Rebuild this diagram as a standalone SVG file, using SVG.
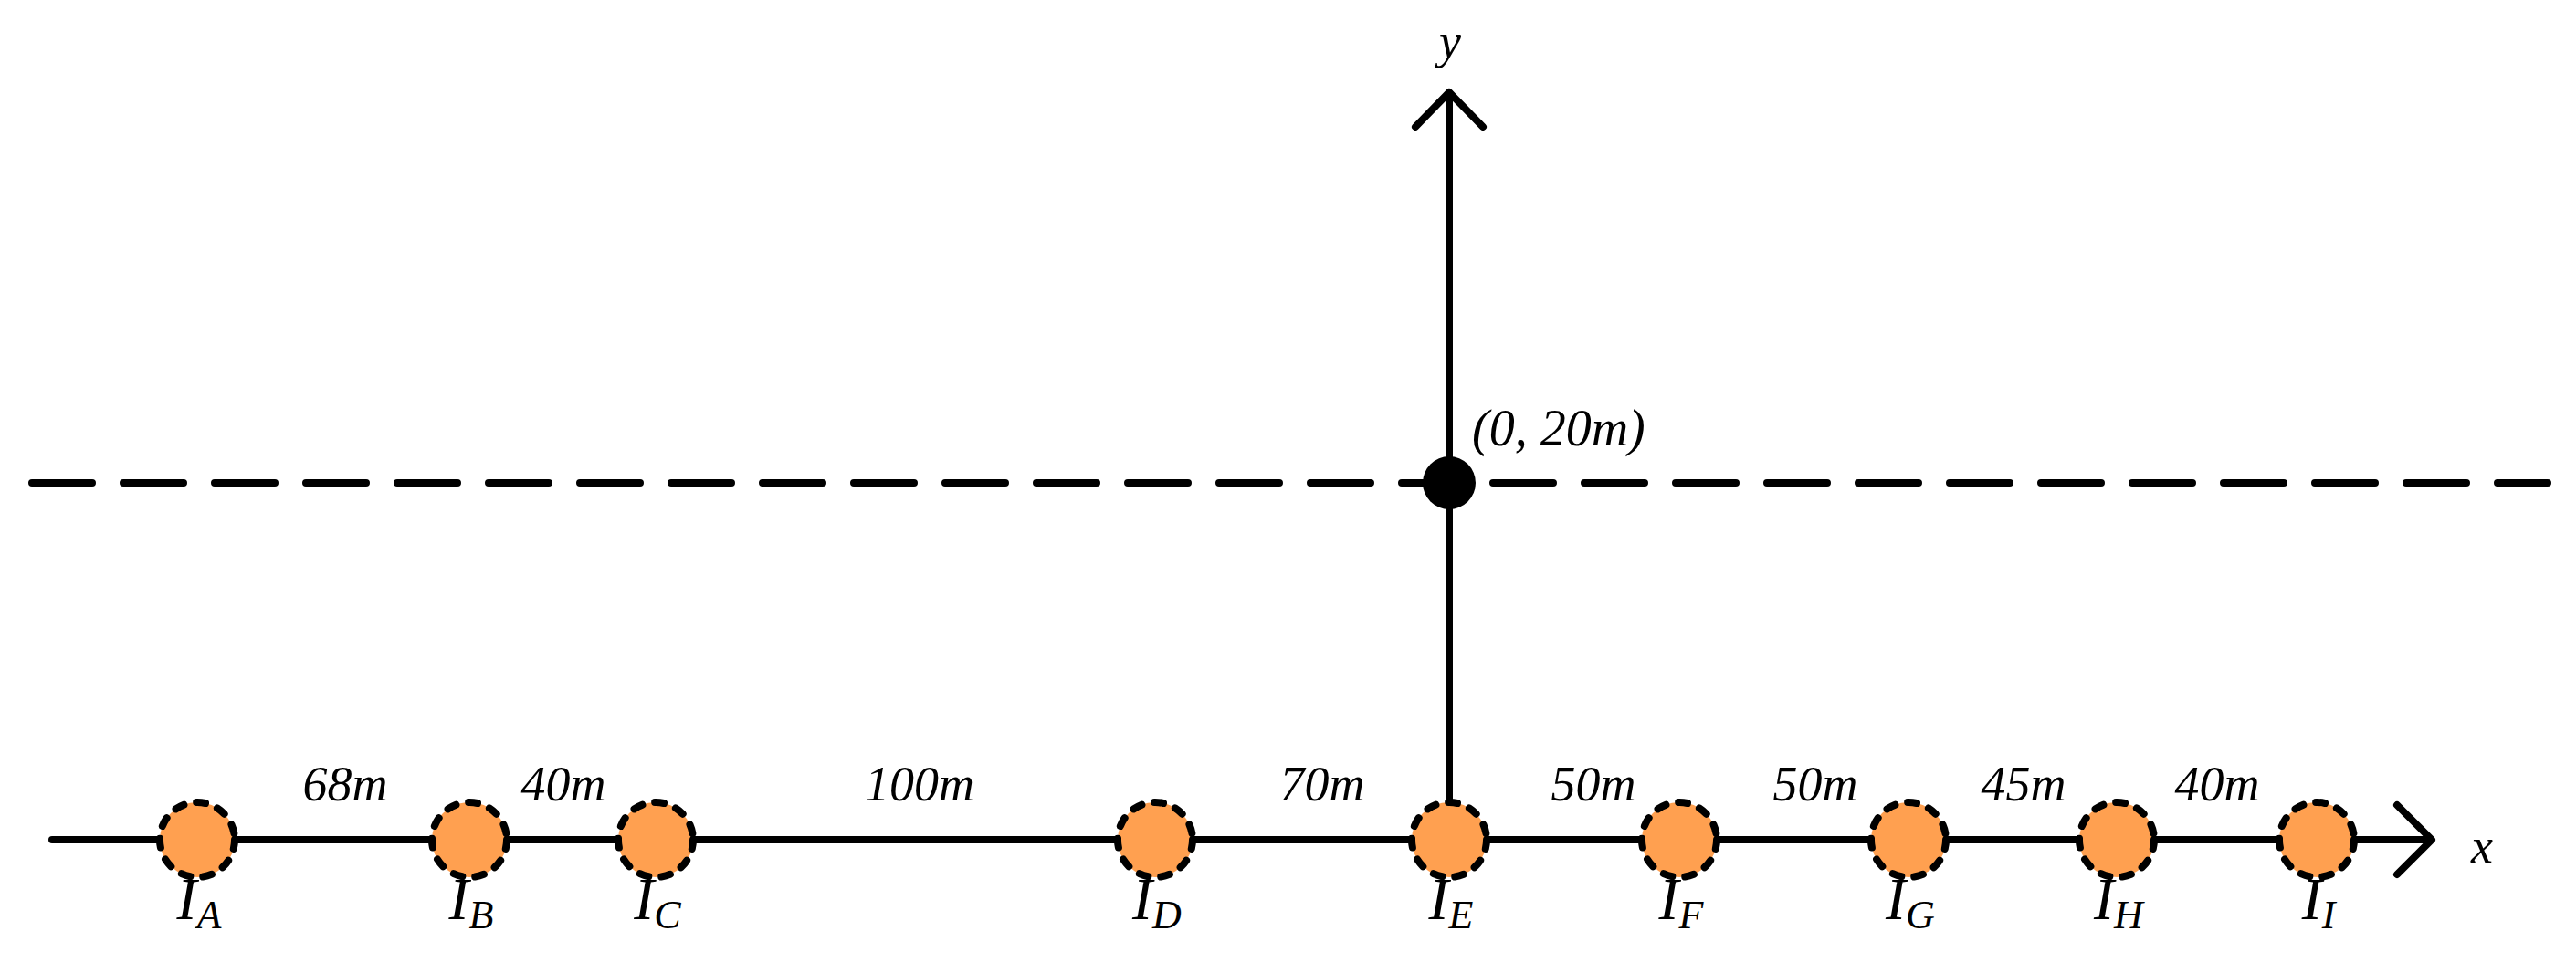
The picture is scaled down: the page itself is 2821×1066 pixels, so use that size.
<svg xmlns="http://www.w3.org/2000/svg" width="2821" height="1066" viewBox="0 0 2821 1066">
<style>
.ax{stroke:#000;stroke-width:8;fill:none;stroke-linecap:round;stroke-linejoin:round}
.src{fill:#FFA050;stroke:#000;stroke-width:8;stroke-dasharray:10 14;stroke-linecap:round}
text{font-family:"Liberation Serif","Times New Roman",serif;font-style:italic;fill:#000}
.d{font-size:54px;text-anchor:middle}
.i{font-size:66px;text-anchor:middle}
.s{font-size:44px}
</style>
<rect width="2821" height="1066" fill="#fff"/>
<g id="connectors">
<line class="ax" x1="35" y1="529" x2="2790" y2="529" stroke-dasharray="66 34" stroke-linecap="round"/>
<line class="ax" x1="57" y1="920" x2="2661" y2="920"/>
<polyline class="ax" points="2625,882 2663,920 2625,958"/>
<line class="ax" x1="1587" y1="920" x2="1587" y2="102"/>
<polyline class="ax" points="1550,139 1587,101 1624,139"/>
</g>
<g id="origin20"><circle cx="1587" cy="529" r="29" fill="#000"/><text x="1612" y="488" style="font-size:56px">(0, 20m)</text></g>
<text x="1588" y="63" class="d">y</text>
<text x="2718" y="945" class="d">x</text>
<g id="IA"><circle class="src" cx="216" cy="920" r="41"/><text class="i" x="218" y="1007">I<tspan class="s" dy="10">A</tspan></text></g>
<g id="IB"><circle class="src" cx="514" cy="920" r="41"/><text class="i" x="516" y="1007">I<tspan class="s" dy="10">B</tspan></text></g>
<g id="IC"><circle class="src" cx="718" cy="920" r="41"/><text class="i" x="720" y="1007">I<tspan class="s" dy="10">C</tspan></text></g>
<g id="ID"><circle class="src" cx="1265" cy="920" r="41"/><text class="i" x="1267" y="1007">I<tspan class="s" dy="10">D</tspan></text></g>
<g id="IE"><circle class="src" cx="1587" cy="920" r="41"/><text class="i" x="1589" y="1007">I<tspan class="s" dy="10">E</tspan></text></g>
<g id="IF"><circle class="src" cx="1839" cy="920" r="41"/><text class="i" x="1841" y="1007">I<tspan class="s" dy="10">F</tspan></text></g>
<g id="IG"><circle class="src" cx="2090" cy="920" r="41"/><text class="i" x="2092" y="1007">I<tspan class="s" dy="10">G</tspan></text></g>
<g id="IH"><circle class="src" cx="2318" cy="920" r="41"/><text class="i" x="2320" y="1007">I<tspan class="s" dy="10">H</tspan></text></g>
<g id="II"><circle class="src" cx="2537" cy="920" r="41"/><text class="i" x="2539" y="1007">I<tspan class="s" dy="10">I</tspan></text></g>
<g id="dist">
<text class="d" x="378" y="877">68m</text>
<text class="d" x="617" y="877">40m</text>
<text class="d" x="1007" y="877">100m</text>
<text class="d" x="1448" y="877">70m</text>
<text class="d" x="1745" y="877">50m</text>
<text class="d" x="1988" y="877">50m</text>
<text class="d" x="2216" y="877">45m</text>
<text class="d" x="2428" y="877">40m</text>
</g>
</svg>
